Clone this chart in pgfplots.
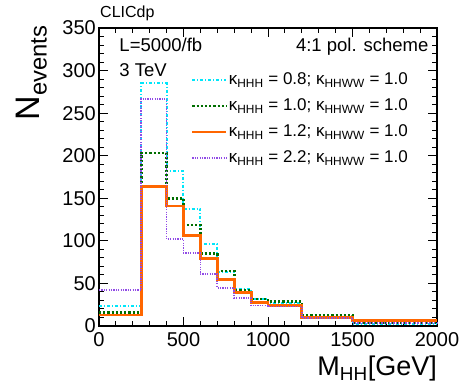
\documentclass[border=0pt]{standalone}
\usepackage{fontspec}
\setmainfont{Liberation Sans}
\usepackage{pgfplots}
\pgfplotsset{compat=1.18}
\definecolor{ccyan}{RGB}{0,230,250}
\definecolor{cgreen}{RGB}{0,110,0}
\definecolor{corange}{RGB}{255,102,0}
\definecolor{cpurple}{RGB}{145,75,230}
\begin{document}
\begin{tikzpicture}
\path[use as bounding box] (-99pt,-63pt) rectangle (361pt,326pt);
\begin{axis}[
  scale only axis, width=338pt, height=298pt,
  at={(0,0)}, anchor=south west,
  xmin=0, xmax=2000, ymin=0, ymax=350,
  xtick={0,500,1000,1500,2000}, minor x tick num=4,
  ytick={0,50,...,350}, minor y tick num=4,
  tick align=inside,
  major tick length=9pt, minor tick length=5pt,
  axis line style={line width=1.2pt},
  every tick/.style={black, line width=1pt},
  /pgf/number format/assume math mode=true,
  /pgf/number format/1000 sep={},
  ticklabel style={font=\fontsize{20}{22}\selectfont},
  xticklabel style={inner sep=0pt, yshift=-6pt},
  yticklabel style={inner sep=0pt, xshift=-3pt},
  xlabel={M\textsubscript{HH}[GeV]},
  xlabel style={font=\fontsize{27}{30}\selectfont, at={(axis description cs:1,-0.1)}, anchor=north east, inner sep=0pt},
  ylabel={N\textsubscript{events}},
  ylabel style={font=\fontsize{34}{36}\selectfont, at={(axis description cs:-0.154,1.01)}, anchor=south east, inner sep=0pt},
  legend cell align=left,
  legend style={draw=none, fill=none, at={(axis description cs:0.263,0.865)}, anchor=north west,
    font=\fontsize{17}{19}\selectfont, row sep=7pt,
    nodes={inner sep=1pt, text height=13pt, text depth=4pt}},
  legend image code/.code={\draw[#1] (0pt,0pt) -- (34pt,0pt);},
  clip=false,
]
\addplot[const plot, color=ccyan, line width=2pt, dash pattern=on 3pt off 2pt on 1pt off 2pt] coordinates {
 (0,24) (250,285) (400,182) (500,138) (600,96) (700,64) (800,43) (900,32) (1000,26.7) (1200,11) (1500,2.2) (2000,2.2)};
\addlegendentry{κ\textsubscript{HHH} = 0.8; κ\textsubscript{HHWW} = 1.0}
\addplot[const plot, color=cgreen, line width=2.6pt, dash pattern=on 2.2pt off 2pt] coordinates {
 (0,15.6) (250,203) (400,150) (500,118.7) (600,85.4) (700,64.6) (800,42.3) (900,31.7) (1000,28.6) (1200,12.1) (1500,4.3) (2000,4.3)};
\addlegendentry{κ\textsubscript{HHH} = 1.0; κ\textsubscript{HHWW} = 1.0}
\addplot[const plot, color=corange, line width=2.8pt] coordinates {
 (0,13) (250,164) (400,141) (500,106) (600,79) (700,55) (800,39) (900,28) (1000,24) (1200,10) (1500,6) (2000,6)};
\addlegendentry{κ\textsubscript{HHH} = 1.2; κ\textsubscript{HHWW} = 1.0}
\addplot[const plot, color=cpurple, line width=1.8pt, dash pattern=on 1.2pt off 1.2pt] coordinates {
 (0,42) (250,267) (400,102) (500,86) (600,61) (700,45) (800,33) (900,24) (1000,23) (1200,9.5) (1500,3.5) (2000,3.5)};
\addlegendentry{κ\textsubscript{HHH} = 2.2; κ\textsubscript{HHWW} = 1.0}
\node[anchor=base west, inner sep=0pt, font=\fontsize{16}{18}\selectfont] at (axis description cs:0.003,1.035) {CLICdp};
\node[anchor=base west, inner sep=0pt, font=\fontsize{18.5}{20}\selectfont] at (axis description cs:0.06,0.92) {L=5000/fb};
\node[anchor=base west, inner sep=0pt, font=\fontsize{18.5}{20}\selectfont] at (axis description cs:0.06,0.836) {3 TeV};
\node[anchor=base east, inner sep=0pt, font=\fontsize{18.5}{20}\selectfont] at (axis description cs:0.975,0.92) {4:1 pol. scheme};
\end{axis}
\end{tikzpicture}
\end{document}
